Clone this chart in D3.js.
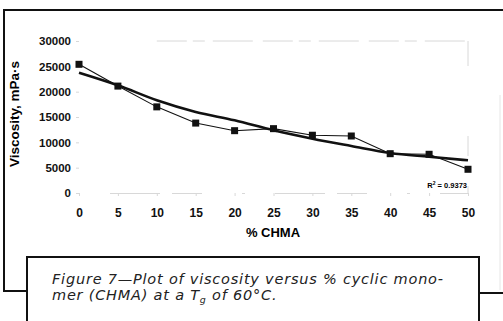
<!DOCTYPE html>
<html>
<head>
<meta charset="utf-8">
<script src="https://cdn.jsdelivr.net/npm/d3@7"></script>
<style>
  body { margin: 0; background: #fff; }
  svg { display: block; }
</style>
</head>
<body>
<div id="chart"></div>
<script>
// % CHMA and measured viscosity (mPa·s)
const chma = [0, 5, 10, 15, 20, 25, 30, 35, 40, 45, 50];
const viscosity = [25400, 21100, 17000, 13800, 12300, 12700, 11400, 11250, 7760, 7640, 4680];
// fitted trend line
const trend = [23750, 21260, 18300, 16000, 14350, 12380, 10720, 9280, 7900, 7150, 6450];
const yTicks = [0, 5000, 10000, 15000, 20000, 25000, 30000];
const xTicks = [0, 5, 10, 15, 20, 25, 30, 35, 40, 45, 50];
const rSquared = "0.9373";

const width = 503, height = 321;

const svg = d3.select('#chart')
  .append('svg')
  .attr('width', width)
  .attr('height', height);

const x = d3.scaleLinear().domain([0, 50]).range([79, 468]);
const y = d3.scaleLinear().domain([0, 30000]).range([193, 41]);

// page frame
svg.append('path')
  .attr('d', 'M503,10 H4 V291 H27')
  .attr('fill', 'none').attr('stroke', '#111').attr('stroke-width', 2);
svg.append('path')
  .attr('d', 'M479,293 H503')
  .attr('fill', 'none').attr('stroke', '#111').attr('stroke-width', 2);
svg.append('line')
  .attr('x1', 500).attr('x2', 500).attr('y1', 95).attr('y2', 290)
  .attr('stroke', '#e6e6e6').attr('stroke-width', 1);

// faint plot frame
const faint = '#d8d8d8';
svg.append('line')
  .attr('x1', x(10)).attr('x2', x(50)).attr('y1', y(30000)).attr('y2', y(30000))
  .attr('stroke', faint).attr('stroke-dasharray', '30,6,12,8,40,10');
svg.append('line')
  .attr('x1', x(50)).attr('x2', x(50)).attr('y1', y(30000)).attr('y2', y(0))
  .attr('stroke', faint).attr('stroke-dasharray', '25,70,20,30');

// axes
const yAxis = svg.append('g')
  .attr('transform', `translate(${x(0)},0)`)
  .call(d3.axisLeft(y).tickValues(yTicks).tickSize(3).tickFormat(d3.format('d')));
yAxis.select('.domain').remove();
yAxis.selectAll('line').attr('stroke', faint);
yAxis.selectAll('text')
  .attr('x', -8)
  .attr('fill', '#111')
  .style('font', 'bold 11.5px "Liberation Sans", Arial, sans-serif');

const xAxis = svg.append('g')
  .attr('transform', `translate(0,${y(0)})`)
  .call(d3.axisBottom(x).tickValues(xTicks).tickSize(3).tickFormat(d3.format('d')));
xAxis.select('.domain').attr('stroke', faint).attr('stroke-dasharray', '3,30,50,12,30,40');
xAxis.selectAll('line').attr('stroke', faint);
xAxis.selectAll('text')
  .attr('y', 15)
  .attr('fill', '#111')
  .style('font', 'bold 12px "Liberation Sans", Arial, sans-serif');

// axis titles
svg.append('text')
  .attr('x', 273).attr('y', 237)
  .attr('text-anchor', 'middle')
  .style('font', 'bold 13px "Liberation Sans", Arial, sans-serif')
  .text('% CHMA');

svg.append('text')
  .attr('transform', 'translate(19,114) rotate(-90)')
  .attr('text-anchor', 'middle')
  .style('font', 'bold 13.5px "Liberation Sans", Arial, sans-serif')
  .text('Viscosity, mPa·s');

// trend line
const trendLine = d3.line()
  .x((d, i) => x(chma[i]))
  .y(d => y(d))
  .curve(d3.curveMonotoneX);
svg.append('path')
  .datum(trend)
  .attr('d', trendLine)
  .attr('fill', 'none')
  .attr('stroke', '#111')
  .attr('stroke-width', 2.6);

// data line and markers
const dataLine = d3.line()
  .x((d, i) => x(chma[i]))
  .y(d => y(d));
svg.append('path')
  .datum(viscosity)
  .attr('d', dataLine)
  .attr('fill', 'none')
  .attr('stroke', '#111')
  .attr('stroke-width', 1.1);

svg.selectAll('rect.pt')
  .data(viscosity)
  .enter()
  .append('rect')
  .attr('class', 'pt')
  .attr('x', (d, i) => x(chma[i]) - 3.5)
  .attr('y', d => y(d) - 3.5)
  .attr('width', 7)
  .attr('height', 7)
  .attr('fill', '#111');

// R² label
const r2 = svg.append('text')
  .attr('x', 467).attr('y', 188)
  .attr('text-anchor', 'end')
  .style('font', 'bold 7.5px "Liberation Sans", Arial, sans-serif');
r2.append('tspan').text('R');
r2.append('tspan').attr('dy', -3).style('font-size', '5px').text('2');
r2.append('tspan').attr('dy', 3).text(' = ' + rSquared);

// caption box
svg.append('rect')
  .attr('x', 27).attr('y', 257)
  .attr('width', 452).attr('height', 80)
  .attr('fill', '#fff')
  .attr('stroke', '#111').attr('stroke-width', 2);

const capFamily = '"DejaVu Sans", "Open Sans", sans-serif';
const capSize = 14.5;
const cap1 = svg.append('text')
  .attr('x', 52).attr('y', 284)
  .style('font-family', capFamily)
  .style('font-style', 'italic')
  .style('font-weight', 200)
  .style('font-size', capSize + 'px')
  .attr('fill', '#222')
  .text('Figure 7—Plot of viscosity versus % cyclic mono-');
// spread line one to the width it has in the figure
const spacing = Math.max(0, (391 - cap1.node().getComputedTextLength()) / (cap1.text().length - 1));
cap1.style('letter-spacing', spacing + 'px');

const cap2 = svg.append('text')
  .attr('x', 52).attr('y', 300)
  .style('font-family', capFamily)
  .style('font-style', 'italic')
  .style('font-weight', 200)
  .style('font-size', capSize + 'px')
  .style('letter-spacing', spacing + 'px')
  .attr('fill', '#222');
cap2.append('tspan').text('mer (CHMA) at a T');
cap2.append('tspan').attr('dy', 3).style('font-size', (capSize * 0.65) + 'px').text('g');
cap2.append('tspan').attr('dy', -3).text(' of 60°C.');
</script>
</body>
</html>
